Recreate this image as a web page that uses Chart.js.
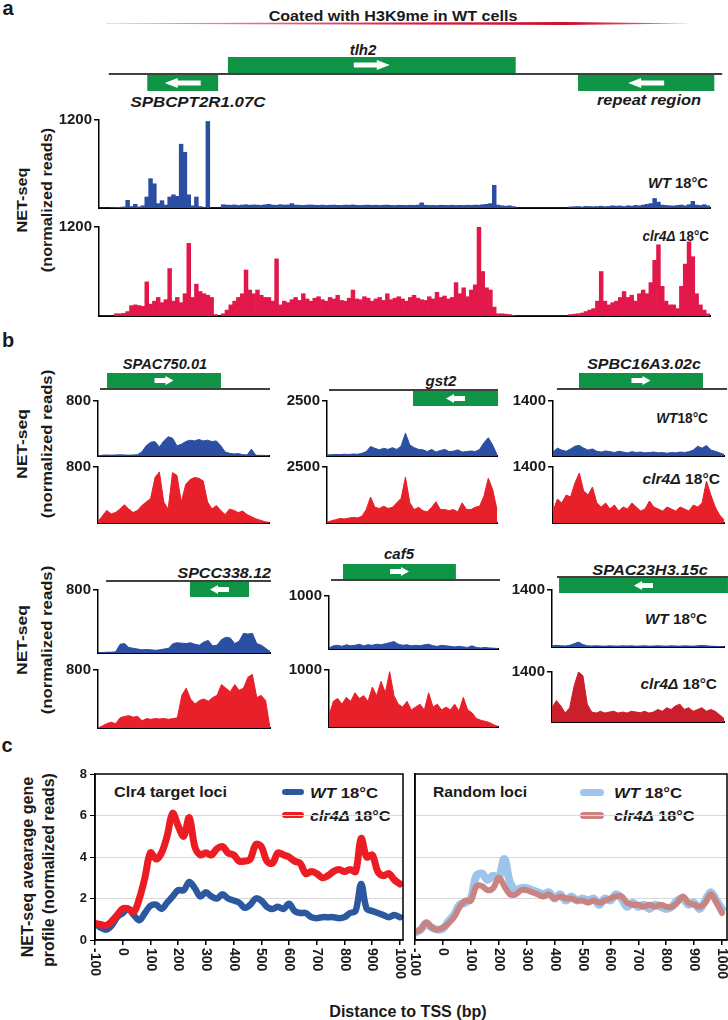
<!DOCTYPE html>
<html><head><meta charset="utf-8">
<script src="https://cdn.jsdelivr.net/npm/chart.js@4.4.1/dist/chart.umd.min.js"></script>
<style>
body{margin:0;background:#fff;width:728px;height:1020px;position:relative;overflow:hidden;font-family:"Liberation Sans",Arial,Helvetica,sans-serif;}
.lab{position:absolute;white-space:nowrap;line-height:1;color:#1a1a1a;}
canvas{position:absolute;}
.sw{position:absolute;border-radius:4px;}
</style></head><body>
<div id="redline" style="position:absolute;left:106px;top:22px;width:587px;height:3px;background:linear-gradient(to right,rgba(235,120,140,0.55),#d8163f 55%,#c8102e 80%,rgba(220,60,90,0.6));clip-path:polygon(0 40%,78% 0,100% 50%,78% 100%,0 60%);"></div>
<script>
// ================= DATA =================
// Panel a: tlh2 locus, 160 bins across the window
const aWT = [
0,0,0,5,10,8,15,105,20,50,
15,30,150,400,330,60,100,40,150,180,
160,870,760,180,30,150,20,5,1180,0,
0,0,45,40,38,42,35,40,45,38,
42,40,36,44,50,40,38,45,40,42,
60,40,38,35,40,42,38,36,40,35,
38,40,36,35,40,38,42,36,35,38,
40,36,38,35,38,40,36,34,38,36,
35,38,36,40,70,38,35,36,34,38,
36,35,38,34,36,35,38,36,40,38,
45,50,60,310,40,30,25,30,20,0,
0,0,0,0,0,0,0,0,0,0,
0,0,0,15,18,20,15,22,20,18,
20,25,18,22,30,25,28,20,30,25,
35,30,40,50,60,130,80,40,35,30,
28,35,40,30,45,90,40,35,45,30];
const aClr4 = [
0,0,0,0,30,30,35,60,140,150,
140,130,460,160,200,250,180,220,640,200,
250,180,300,980,250,430,330,300,280,250,
20,0,30,80,150,200,250,300,620,350,
300,350,280,250,250,200,770,150,200,180,
220,250,210,300,230,200,240,260,220,200,
250,230,280,210,200,240,350,230,220,260,
240,200,230,250,210,300,220,240,260,230,
200,250,280,240,220,210,260,230,320,250,
270,230,250,450,300,380,260,350,420,1200,
600,380,350,120,30,30,25,20,10,0,
0,0,0,0,0,0,0,0,0,0,
0,0,0,20,25,30,40,60,80,100,
200,600,200,150,180,200,250,330,250,280,
200,300,350,300,450,750,960,400,200,150,
150,100,400,700,1000,800,300,150,80,30];

// Panel b: 40 points per window
const spac750WT   = [0,12,15,12,15,18,15,12,15,20,60,150,200,210,130,220,280,260,150,170,210,230,220,240,220,230,210,220,150,60,40,30,35,20,15,100,10,10,8,5];
const spac750Clr4 = [20,100,180,130,150,200,260,200,150,180,250,300,350,650,730,300,200,720,680,300,550,620,650,640,600,300,200,250,180,120,200,180,150,170,120,90,60,40,20,10];
const gst2WT   = [50,60,70,60,80,70,90,80,120,200,430,350,280,350,300,380,300,450,1040,500,380,300,280,200,300,180,250,300,200,220,280,180,200,230,200,300,600,830,500,60];
const gst2Clr4 = [30,100,150,200,180,220,250,230,300,600,1160,700,650,750,650,700,900,1100,2050,900,600,700,550,500,700,950,600,600,550,600,500,900,600,600,700,750,1200,2000,1500,600];
const spbc16WT   = [100,200,150,120,180,250,270,200,150,180,120,100,130,110,90,120,100,80,110,90,100,80,90,100,80,90,70,90,80,100,90,110,150,250,200,270,150,120,80,40];
const spbc16Clr4 = [300,600,500,700,650,1000,1250,800,700,900,500,400,500,350,450,300,400,350,500,400,300,350,550,400,350,300,400,350,300,400,350,300,450,400,500,1050,700,400,200,80];
const spcc338WT   = [0,5,10,10,15,110,120,70,60,50,40,45,40,35,40,50,60,120,130,125,120,130,110,100,140,160,90,100,170,200,190,120,150,250,240,250,120,100,60,20];
const spcc338Clr4 = [0,30,60,80,60,140,160,170,150,160,100,130,120,130,125,130,120,130,140,450,550,400,330,380,400,370,420,450,600,550,500,600,520,550,700,740,420,450,380,0];
const caf5WT   = [20,60,70,50,80,60,70,90,60,80,70,90,80,100,120,140,90,70,80,60,70,60,80,90,60,50,70,60,50,40,50,40,30,60,30,20,30,20,15,10];
const caf5Clr4 = [200,450,500,400,520,450,600,500,550,450,700,550,800,600,970,550,400,350,450,300,350,400,300,600,350,400,300,350,300,400,280,520,300,250,150,120,100,80,40,10];
const spac23WT   = [30,40,30,25,40,80,120,60,30,25,30,25,20,30,25,20,30,25,30,20,25,30,20,25,30,25,20,30,25,20,30,25,20,30,40,30,20,15,10,5];
const spac23Clr4 = [400,600,450,250,400,1000,1400,1300,500,280,250,300,250,280,300,250,280,250,300,280,260,300,250,280,350,300,400,350,450,500,350,400,300,350,400,300,350,300,200,100];

// Panel c: average profiles, distance to TSS (bp)
const cPos = [-100,-80,-60,-40,-20,0,20,40,60,80,100,120,140,160,180,200,220,240,260,280,300,320,340,360,380,400,420,440,460,480,500,520,540,560,580,600,620,640,660,680,700,720,740,760,780,800,820,840,860,880,900,920,940,960,980,1000];
const cTargetWT   = [0.8,0.6,0.5,0.7,1.1,1.3,1.5,1.2,0.95,1.3,1.65,1.7,1.5,1.8,2.1,2.4,2.4,2.8,2.5,2.1,2.3,2.1,2.0,2.2,2.0,1.9,1.8,1.55,1.7,2.0,1.9,1.6,1.5,1.6,1.5,1.75,1.4,1.3,1.3,1.1,1.05,1.1,1.1,1.1,1.05,1.1,1.3,1.4,2.7,1.5,1.4,1.3,1.2,1.1,1.2,1.1];
const cTargetClr4 = [0.8,0.75,0.7,0.9,1.2,1.5,1.5,1.35,2.0,3.0,4.2,3.9,4.2,5.0,6.1,5.5,5.0,5.9,4.5,4.1,4.2,4.1,4.4,4.5,4.2,4.1,3.8,3.8,3.9,4.6,4.5,3.8,3.7,4.2,4.1,4.0,3.8,3.7,3.2,3.3,3.2,3.0,3.1,3.3,3.4,3.3,3.4,3.3,4.9,4.0,4.1,3.3,3.1,3.2,2.9,2.7];
const cRandomWT   = [0.35,0.5,0.8,0.6,0.5,0.55,0.9,1.2,1.7,1.8,2.0,3.1,3.2,2.9,3.1,3.0,3.9,2.8,2.4,2.5,2.5,2.4,2.3,2.2,2.3,2.0,2.2,1.9,2.1,1.9,2.0,1.9,2.0,1.7,2.0,1.9,2.2,2.0,1.6,1.8,1.6,1.7,1.5,1.7,1.6,1.5,1.6,1.9,2.0,1.7,1.8,1.5,1.9,2.3,1.9,1.5];
const cRandomClr4 = [0.4,0.5,0.85,0.6,0.5,0.6,0.8,1.1,1.6,1.9,1.9,2.6,2.6,2.4,2.5,3.0,2.6,2.2,2.2,2.4,2.4,2.3,2.2,2.1,2.2,2.0,2.1,2.0,2.0,1.9,1.9,1.8,1.9,1.8,1.9,2.0,2.1,2.1,1.8,1.7,1.7,1.6,1.7,1.6,1.7,1.6,1.6,1.8,2.1,1.8,1.7,1.6,1.8,2.2,1.8,1.3];
const cTicksX = [-100,0,100,200,300,400,500,600,700,800,900,1000];
const cTicksY = [0,2,4,6,8];

// ================= HELPERS =================
const F = "'Liberation Sans', Arial, Helvetica, sans-serif";
const GREEN = '#0e9444';
Chart.defaults.font.family = F;

function T(html, x, y, o = {}) {
  const d = document.createElement('div');
  d.className = 'lab';
  d.innerHTML = html;
  const s = d.style;
  s.left = x + 'px'; s.top = y + 'px';
  s.fontSize = (o.size || 15) + 'px';
  s.fontWeight = o.w === undefined ? 'bold' : o.w;
  if (o.it) s.fontStyle = 'italic';
  if (o.ls) s.letterSpacing = o.ls + 'px';
  document.body.appendChild(d);
  const k = o.fit ? o.fit / d.offsetWidth : 1;
  const al = o.al || 'c';
  if (o.rot) { s.transformOrigin = 'center center'; s.transform = `translate(-50%,-50%) rotate(-90deg) scaleX(${k})`; }
  else if (al === 'l') { s.transformOrigin = 'left center'; s.transform = `translateY(-50%) scaleX(${k})`; }
  else if (al === 'r') { s.transformOrigin = 'right center'; s.transform = `translate(-100%,-50%) scaleX(${k})`; }
  else { s.transformOrigin = 'center center'; s.transform = `translate(-50%,-50%) scaleX(${k})`; }
  return d;
}
function SW(x, y, w, h, color) {
  const d = document.createElement('div');
  d.className = 'sw';
  Object.assign(d.style, {left: x + 'px', top: (y - h / 2) + 'px', width: w + 'px', height: h + 'px', background: color});
  document.body.appendChild(d);
}
function mkCanvas(x0, y0, x1, y1, m) {
  const c = document.createElement('canvas');
  const w = Math.round(x1 - x0 + m.l + m.r), h = Math.round(y1 - y0 + m.t + m.b);
  c.width = w; c.height = h;
  c.style.left = (x0 - m.l) + 'px'; c.style.top = (y0 - m.t) + 'px';
  c.style.width = w + 'px'; c.style.height = h + 'px';
  document.body.appendChild(c);
  return c;
}
function genePlug(g) {
  return {id: 'genes', afterDraw(chart) {
    const ctx = chart.ctx, xs = chart.scales.x, top = chart.chartArea.top;
    const P = f => xs.getPixelForDecimal(f);
    const ly = top - g.off;
    ctx.save();
    g.boxes.forEach(b => {
      const x0 = P(b.s), x1 = P(b.e);
      const y0 = b.up ? ly - 1 - g.h : ly + 1;
      ctx.fillStyle = GREEN;
      ctx.fillRect(x0, y0, x1 - x0, g.h);
      const cx = (x0 + x1) / 2, cy = y0 + g.h / 2, d = b.dir;
      const tip = cx + d * g.aw / 2, base = cx - d * g.aw / 2, neck = tip - d * g.hl;
      ctx.fillStyle = '#fff';
      ctx.beginPath();
      ctx.moveTo(base, cy - g.sh / 2); ctx.lineTo(neck, cy - g.sh / 2); ctx.lineTo(neck, cy - g.ah / 2);
      ctx.lineTo(tip, cy); ctx.lineTo(neck, cy + g.ah / 2); ctx.lineTo(neck, cy + g.sh / 2);
      ctx.lineTo(base, cy + g.sh / 2); ctx.closePath(); ctx.fill();
    });
    ctx.strokeStyle = '#000'; ctx.lineWidth = 1.5;
    ctx.beginPath(); ctx.moveTo(P(g.line[0]), ly); ctx.lineTo(P(g.line[1]), ly); ctx.stroke();
    ctx.restore();
  }};
}
function track(o) {
  const m = {l: 45, t: o.gTop || 10, r: o.r || 6, b: 4};
  const cv = mkCanvas(o.x0, o.y0, o.x1, o.y1, m);
  const ds = o.kind === 'bar'
    ? {data: o.data, backgroundColor: o.color, borderWidth: 0, barPercentage: 1, categoryPercentage: 1}
    : {data: o.data, backgroundColor: o.color, borderColor: o.color, borderWidth: 1, fill: 'origin', pointRadius: 0, tension: 0};
  return new Chart(cv, {
    type: o.kind,
    data: {labels: o.data.map((_, i) => i), datasets: [ds]},
    options: {
      responsive: false, animation: false, events: [], devicePixelRatio: 1,
      layout: {padding: {left: 0, right: m.r, top: m.t, bottom: m.b}},
      plugins: {legend: {display: false}, tooltip: {enabled: false}},
      scales: {
        x: {display: true, offset: o.kind === 'bar', grid: {display: false}, ticks: {display: false},
            border: {display: true, color: '#000', width: 2},
            afterFit(s) { s.height = 0; s.paddingLeft = 0; s.paddingRight = 0; }},
        y: {min: 0, max: o.max,
            afterBuildTicks(s) { s.ticks = [{value: o.max}]; },
            ticks: {display: true, color: '#1a1a1a', padding: 2, font: {family: F, size: 15, weight: 'bold'}, callback: v => String(v)},
            grid: {display: true, drawOnChartArea: false, drawTicks: true, tickLength: 5, color: '#000', lineWidth: 1.5},
            border: {display: true, color: '#000', width: 1.5},
            afterFit(s) { s.width = m.l; s.paddingTop = 0; s.paddingBottom = 0; }}
      }
    },
    plugins: o.gene ? [genePlug(o.gene)] : []
  });
}

// ================= PANEL a =================
T('a', 8, 8, {size: 20});
T('Coated with H3K9me in WT cells', 393, 15, {size: 15, fit: 249});
T('tlh2', 363, 49, {size: 15, it: 1});
T('SPBCPT2R1.07C', 198, 101, {size: 15, it: 1, fit: 135});
T('repeat region', 649, 99, {size: 15, it: 1, fit: 104});
T('<i>WT</i> 18°C', 708, 182, {al: 'r', size: 15, fit: 60});
T('<i>clr4Δ</i> 18°C', 709, 235, {al: 'r', size: 15, fit: 66});
T('NET-seq', 21, 200, {rot: 1, size: 15, fit: 65});
T('(normalized reads)', 46, 200, {rot: 1, size: 15, fit: 144});

const geneA = {off: 46, h: 16, aw: 36, ah: 10, sh: 5, hl: 13, line: [0.016, 1.020],
  boxes: [{s: 0.211, e: 0.682, up: true, dir: 1}, {s: 0.079, e: 0.195, up: false, dir: -1}, {s: 0.784, e: 1.007, up: false, dir: -1}]};
track({x0: 99, x1: 710, y0: 120, y1: 208, data: aWT, max: 1200, color: '#2b4ea2', kind: 'bar', gene: geneA, gTop: 120, r: 16});
track({x0: 99, x1: 710, y0: 227, y1: 316, data: aClr4, max: 1200, color: '#e2184a', kind: 'bar'});

// ================= PANEL b =================
T('b', 8, 340, {size: 20});
T('SPAC750.01', 165, 363, {it: 1, fit: 84});
T('gst2', 441, 380, {it: 1});
T('SPBC16A3.02c', 644, 363, {it: 1, fit: 114});
T('<i>WT</i>18°C', 708, 417, {al: 'r', fit: 52});
T('<i>clr4Δ</i> 18°C', 720, 478, {al: 'r', fit: 77});
T('NET-seq', 21, 444, {rot: 1, size: 15, fit: 70});
T('(normalized reads)', 46, 444, {rot: 1, size: 15, fit: 148});
T('SPCC338.12', 271, 572, {al: 'r', it: 1, fit: 94});
T('caf5', 399, 553, {it: 1});
T('SPAC23H3.15c', 650, 569, {it: 1, fit: 116});
T('<i>WT</i> 18°C', 707, 618, {al: 'r', fit: 62});
T('<i>clr4Δ</i> 18°C', 717, 683, {al: 'r', fit: 76});
T('NET-seq', 21, 640, {rot: 1, size: 15, fit: 70});
T('(normalized reads)', 46, 640, {rot: 1, size: 15, fit: 148});

const BLUE = '#2b4fa3', RED = '#e8202a';
const gb = (off, line, box, up, dir) => ({off, h: 15, aw: 19, ah: 9, sh: 5, hl: 8, line, boxes: [{s: box[0], e: box[1], up, dir}]});
track({x0: 98, x1: 269, y0: 401, y1: 456, data: spac750WT, max: 800, color: BLUE, kind: 'line', gene: gb(12, [0.012, 1.006], [0.053, 0.719], true, 1), gTop: 32});
track({x0: 98, x1: 269, y0: 467, y1: 523, data: spac750Clr4, max: 800, color: RED, kind: 'line'});
track({x0: 327, x1: 497, y0: 401, y1: 456, data: gst2WT, max: 2500, color: BLUE, kind: 'line', gene: gb(11, [0.012, 1.006], [0.506, 1.006], false, -1), gTop: 20});
track({x0: 327, x1: 497, y0: 467, y1: 523, data: gst2Clr4, max: 2500, color: RED, kind: 'line'});
track({x0: 553, x1: 724, y0: 401, y1: 456, data: spbc16WT, max: 1400, color: BLUE, kind: 'line', gene: gb(12, [0.023, 1.018], [0.152, 0.877], true, 1), gTop: 32});
track({x0: 553, x1: 724, y0: 467, y1: 523, data: spbc16Clr4, max: 1400, color: RED, kind: 'line'});

track({x0: 98, x1: 270, y0: 590, y1: 653, data: spcc338WT, max: 800, color: BLUE, kind: 'line', gene: gb(9, [0.047, 1.006], [0.535, 0.878], false, -1), gTop: 14});
track({x0: 98, x1: 270, y0: 670, y1: 728, data: spcc338Clr4, max: 800, color: RED, kind: 'line'});
track({x0: 329, x1: 498, y0: 596, y1: 649, data: caf5WT, max: 1000, color: BLUE, kind: 'line', gene: gb(16, [0.012, 1.012], [0.083, 0.751], true, 1), gTop: 36});
track({x0: 329, x1: 498, y0: 670, y1: 727, data: caf5Clr4, max: 1000, color: RED, kind: 'line'});
track({x0: 552, x1: 724, y0: 590, y1: 647, data: spac23WT, max: 1400, color: BLUE, kind: 'line', gene: gb(13, [0.029, 1.023], [0.041, 1.023], false, -1), gTop: 18});
track({x0: 552, x1: 724, y0: 672, y1: 722, data: spac23Clr4, max: 1400, color: '#cc1f2b', kind: 'line'});

// ================= PANEL c =================
T('c', 7, 745, {size: 20});
T('Clr4 target loci', 114, 791, {al: 'l', fit: 113});
T('Random loci', 433, 791, {al: 'l', fit: 94});
SW(282, 792, 22, 6, '#2c58a0'); SW(282, 815, 22, 6, '#ec1c24');
T('<i>WT</i> 18°C', 310, 792, {al: 'l', fit: 68});
T('<i>clr4Δ</i> 18°C', 310, 815, {al: 'l', fit: 80});
SW(580, 792, 24, 7, '#9fc5ea'); SW(580, 815, 24, 7, '#c98482');
T('<i>WT</i> 18°C', 614, 792, {al: 'l', fit: 68});
T('<i>clr4Δ</i> 18°C', 614, 815, {al: 'l', fit: 80});
T('Distance to TSS (bp)', 408, 1012, {size: 16, fit: 157});
T('NET-seq avearage gene', 28, 867, {rot: 1, size: 16, fit: 181});
T('profile (normalized reads)', 49, 870, {rot: 1, size: 16, fit: 194});

const framePlug = {id: 'frame', afterDraw(chart) {
  const a = chart.chartArea, ctx = chart.ctx;
  ctx.save(); ctx.strokeStyle = '#000'; ctx.lineWidth = 1.5;
  ctx.strokeRect(a.left, a.top, a.right - a.left, a.bottom - a.top); ctx.restore();
}};
const rotTicks = {id: 'rotTicks', afterDraw(chart) {
  const ctx = chart.ctx, xs = chart.scales.x, b = chart.chartArea.bottom;
  ctx.save(); ctx.fillStyle = '#1a1a1a'; ctx.font = `bold 14px ${F}`;
  ctx.textAlign = 'left'; ctx.textBaseline = 'middle';
  cTicksX.forEach(v => {
    const px = xs.getPixelForValue(v);
    ctx.save(); ctx.translate(px, b + 8); ctx.rotate(Math.PI / 2); ctx.fillText(String(v), 0, 0); ctx.restore();
  });
  ctx.restore();
}};
function profile(o) {
  const m = {l: o.left ? 40 : 4, t: 10, r: o.r, b: 62};
  const cv = mkCanvas(o.x0, 774, o.x1, 940, m);
  const pts = arr => cPos.map((x, i) => ({x, y: arr[i]}));
  new Chart(cv, {
    type: 'line',
    data: {datasets: [
      {data: pts(o.clr4), borderColor: o.c2, borderWidth: o.w2, pointRadius: 0, tension: 0.35, borderCapStyle: 'round', borderJoinStyle: 'round', order: 0},
      {data: pts(o.wt), borderColor: o.c1, borderWidth: o.w1, pointRadius: 0, tension: 0.35, borderCapStyle: 'round', borderJoinStyle: 'round', order: 1}
    ]},
    options: {
      responsive: false, animation: false, events: [], devicePixelRatio: 1,
      layout: {padding: {left: o.left ? 0 : 4, right: m.r, top: m.t, bottom: m.b}},
      plugins: {legend: {display: false}, tooltip: {enabled: false}},
      scales: {
        x: {type: 'linear', min: -100, max: o.xmax,
            afterBuildTicks(s) { s.ticks = cTicksX.map(v => ({value: v})); },
            ticks: {display: false},
            grid: {display: true, drawOnChartArea: false, drawTicks: true, tickLength: 5, color: '#000', lineWidth: 1.5},
            border: {display: true, color: '#000', width: 1.5},
            afterFit(s) { s.height = 0; s.paddingLeft = 0; s.paddingRight = 0; }},
        y: {min: 0, max: 8,
            afterBuildTicks(s) { s.ticks = cTicksY.map(v => ({value: v})); },
            ticks: {display: o.left, color: '#1a1a1a', padding: 3, font: {family: F, size: 13, weight: 'bold'}},
            grid: {display: true, drawOnChartArea: true, drawTicks: o.left, tickLength: 5, lineWidth: 1,
                   color: c => (c.tick && (c.tick.value === 0 || c.tick.value === 8)) ? 'rgba(0,0,0,0)' : '#d9d9d9', tickColor: '#000'},
            border: {display: true, color: '#000', width: 1.5},
            afterFit(s) { s.width = o.left ? m.l : 0; s.paddingTop = 0; s.paddingBottom = 0; }}
      }
    },
    plugins: [framePlug, rotTicks]
  });
}
profile({x0: 95, x1: 403, left: true, r: 6, xmax: 1011, wt: cTargetWT, clr4: cTargetClr4, c1: '#2c58a0', c2: '#ec1c24', w1: 6.5, w2: 7});
profile({x0: 415, x1: 727, left: false, r: 1, xmax: 1018, wt: cRandomWT, clr4: cRandomClr4, c1: 'rgba(140,186,232,0.85)', c2: '#c98482', w1: 8, w2: 6});
</script>
</body></html>
